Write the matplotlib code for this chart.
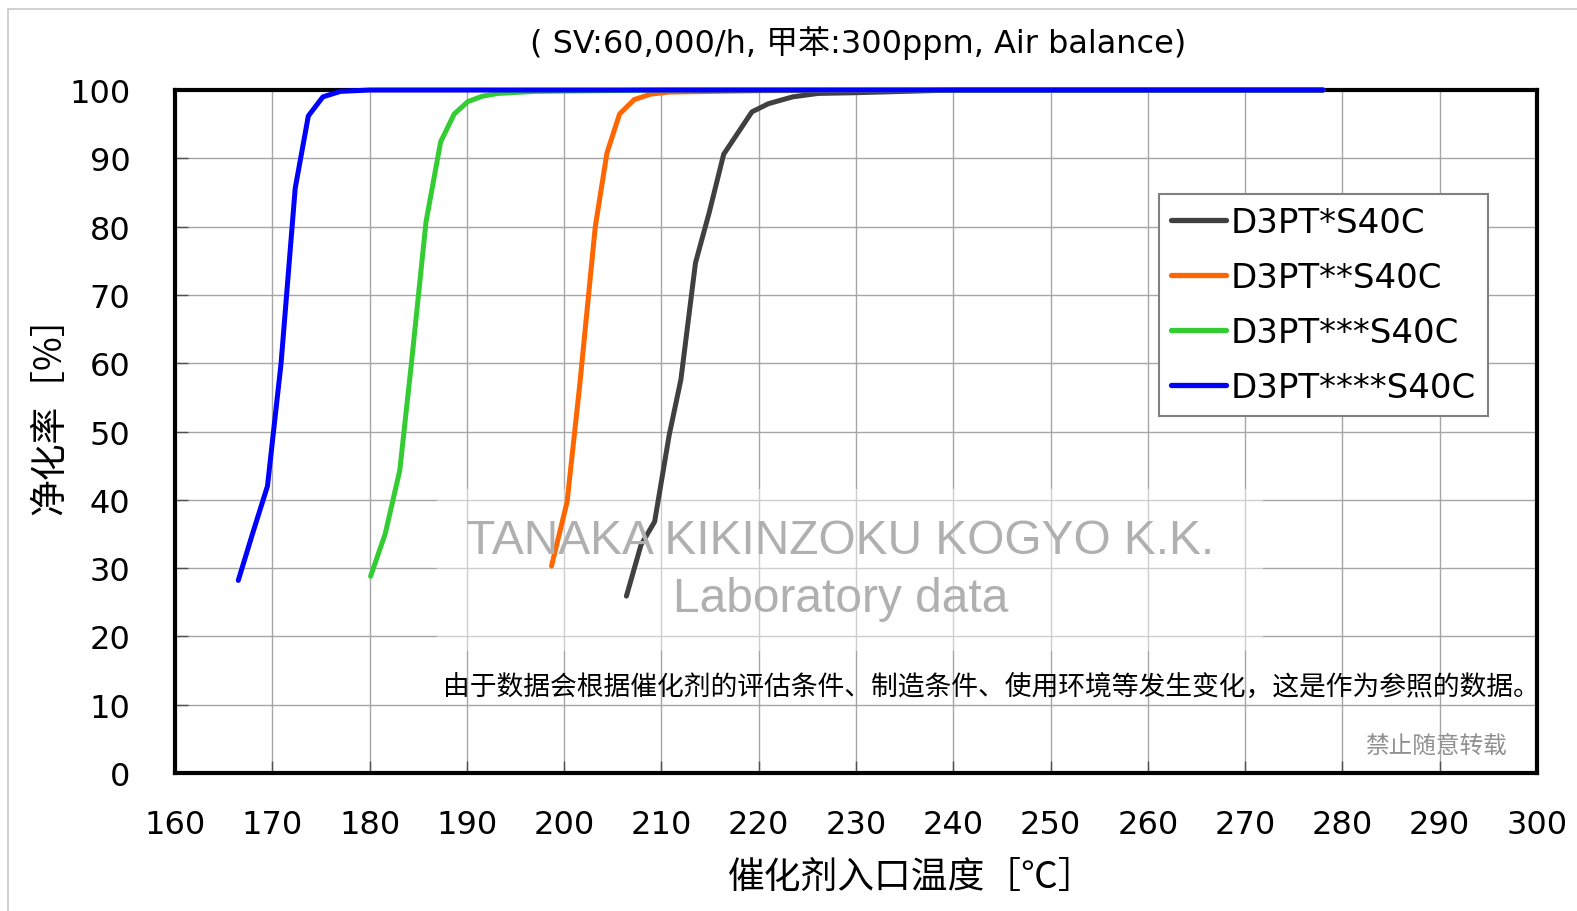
import matplotlib
matplotlib.use("Agg")
import matplotlib.pyplot as plt
from matplotlib.patches import Rectangle

plt.rcParams['font.family'] = ['DejaVu Sans', 'Noto Sans CJK SC']

# data
temp_1 = [206.4, 207.9, 209.3, 210.8, 212.0, 213.5, 214.9, 216.4, 219.3, 221.0, 223.5, 226.1, 229.8, 240, 260, 278]
conv_1 = [25.9, 33.4, 36.8, 49.5, 57.6, 74.7, 82.0, 90.6, 96.8, 98.0, 99.0, 99.5, 99.6, 100, 100, 100]

temp_2 = [198.7, 200.3, 201.6, 203.2, 204.4, 205.7, 207.2, 208.9, 210.8, 220, 240, 278]
conv_2 = [30.3, 39.7, 56.8, 80.0, 90.8, 96.5, 98.6, 99.4, 99.7, 99.9, 100, 100]

temp_3 = [180.1, 181.6, 183.1, 184.3, 185.8, 187.3, 188.7, 190.1, 191.6, 193.2, 197, 210, 278]
conv_3 = [28.8, 35.0, 44.3, 60.0, 80.7, 92.4, 96.5, 98.3, 99.1, 99.5, 99.8, 100, 100]

temp_4 = [166.5, 168.0, 169.5, 170.9, 172.35, 173.7, 175.2, 177.0, 180, 200, 278]
conv_4 = [28.2, 35.2, 42.0, 60.0, 85.6, 96.2, 99.0, 99.8, 100, 100, 100]

names = ['D3PT*S40C', 'D3PT**S40C', 'D3PT***S40C', 'D3PT****S40C']
colors = ['#404040', '#FF6600', '#33CC33', '#0000FF']

x_ticks = list(range(160, 301, 10))
y_ticks = list(range(0, 101, 10))

fig = plt.figure(figsize=(15.77, 9.12), dpi=100)
ax = fig.add_axes([0.111, 0.1513, 0.8636, 0.7489])

# outer light frame
fig.patches.append(Rectangle((8 / 1577, -0.1), 1.2, 1.1 - 10 / 912, transform=fig.transFigure,
                             fill=False, edgecolor='#C8C8C8', linewidth=1.2))

ax.set_xlim(160, 300)
ax.set_ylim(0, 100)
ax.set_xticks(x_ticks)
ax.set_yticks(y_ticks)
ax.grid(True, color='#A6A6A6', linewidth=1.0, zorder=0.5)
ax.set_axisbelow(True)
ax.tick_params(direction='in', length=9, width=1, color='#505050', labelsize=23)
ax.tick_params(axis='y', pad=32)
ax.tick_params(axis='x', pad=26)
for s in ax.spines.values():
    s.set_linewidth(3)
    s.set_color('black')
    s.set_zorder(2.5)

# faint box behind the watermark
ax.add_patch(Rectangle((0.192, 0.179), 0.607, 0.237, transform=ax.transAxes,
                       facecolor='white', edgecolor='none', alpha=0.45, zorder=1))

series = [(temp_1, conv_1), (temp_2, conv_2), (temp_3, conv_3), (temp_4, conv_4)]
for (t, c), name, col in zip(series, names, colors):
    ax.plot(t, c, color=col, linewidth=3.6, label=name, solid_capstyle='round', zorder=3, clip_on=False)

leg = ax.legend(loc='upper right', bbox_to_anchor=(0.964, 0.848), fontsize=24.5, frameon=True,
                fancybox=False, framealpha=1, edgecolor='#808080', handlelength=1.62,
                handletextpad=0.15, labelspacing=0.65, borderpad=0.35, borderaxespad=0)
leg.get_frame().set_linewidth(1.5)
for h in leg.get_lines():
    h.set_linewidth(3.8)
leg.set_zorder(5)

ax.text(0.4885, 0.3408, 'TANAKA KIKINZOKU KOGYO K.K.', transform=ax.transAxes, ha='center', va='center',
        fontsize=34.5, color='#B0B0B0', family='Liberation Sans', zorder=4)
ax.text(0.4885, 0.2558, 'Laboratory data', transform=ax.transAxes, ha='center', va='center',
        fontsize=34.5, color='#B0B0B0', family='Liberation Sans', zorder=4)

ax.text(0.1968, 0.1274, '由于数据会根据催化剂的评估条件、制造条件、使用环境等发生变化，这是作为参照的数据。',
        transform=ax.transAxes, ha='left', va='center', fontsize=19.3, color='black',
        family=['Noto Sans CJK SC', 'DejaVu Sans'], zorder=4)
ax.text(0.978, 0.041, '禁止随意转载', transform=ax.transAxes, ha='right', va='center',
        fontsize=17, color='#909090', family=['Noto Sans CJK SC', 'DejaVu Sans'], zorder=4)

fig.text(858 / 1577, 1 - 43 / 912, '( SV:60,000/h, 甲苯:300ppm, Air balance)', ha='center', va='center',
         fontsize=23)
fig.text(912 / 1577, 1 - 877 / 912, '催化剂入口温度［℃］', ha='center', va='center', fontsize=26.5,
         family=['Noto Sans CJK SC', 'DejaVu Sans'])
fig.text(50 / 1577, 1 - 406 / 912, '净化率［%］', ha='center', va='center', fontsize=26.5, rotation=90,
         family=['Noto Sans CJK SC', 'DejaVu Sans'])

fig.savefig('out.png', dpi=100)
